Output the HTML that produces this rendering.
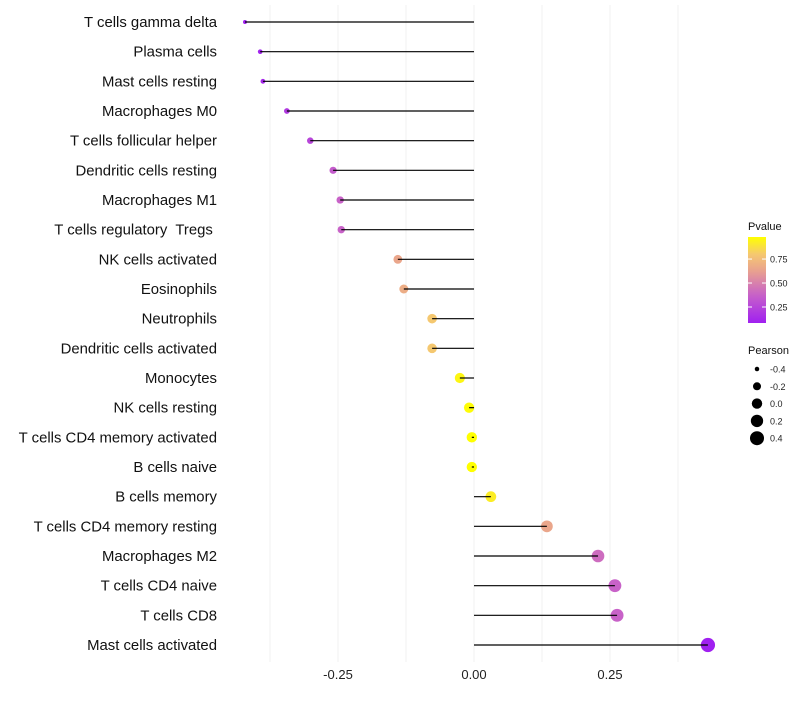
<!DOCTYPE html>
<html><head><meta charset="utf-8"><style>
body{margin:0;background:#fff}
svg text{font-family:"Liberation Sans",sans-serif;white-space:pre}
</style></head><body>
<svg id="c" width="800" height="700"></svg>
<script>
const categories=["T cells gamma delta","Plasma cells","Mast cells resting","Macrophages M0","T cells follicular helper","Dendritic cells resting","Macrophages M1","T cells regulatory  Tregs ","NK cells activated","Eosinophils","Neutrophils","Dendritic cells activated","Monocytes","NK cells resting","T cells CD4 memory activated","B cells naive","B cells memory","T cells CD4 memory resting","Macrophages M2","T cells CD4 naive","T cells CD8","Mast cells activated"];
const pearson=[-0.421,-0.393,-0.388,-0.344,-0.301,-0.259,-0.246,-0.244,-0.140,-0.129,-0.077,-0.077,-0.026,-0.009,-0.004,-0.004,0.031,0.134,0.228,0.259,0.263,0.430];
const pvalue=[0.08,0.10,0.12,0.20,0.25,0.35,0.38,0.38,0.65,0.68,0.80,0.80,0.95,0.97,0.98,0.98,0.92,0.65,0.42,0.38,0.38,0.08];
const xTicks=[-0.25,0,0.25];
const xTickLabels=["-0.25","0.00","0.25"];
const gridVals=[-0.375,-0.25,-0.125,0,0.125,0.25,0.375];
const pTicks=[0.25,0.5,0.75];
const pTickLabels=["0.25","0.50","0.75"];
const sizeVals=[-0.4,-0.2,0,0.2,0.4];
const sizeLabels=["-0.4","-0.2","0.0","0.2","0.4"];

const NS="http://www.w3.org/2000/svg";
const svg=document.getElementById('c');
function el(t,a,p){const e=document.createElementNS(NS,t);for(const k in a)e.setAttribute(k,a[k]);(p||svg).appendChild(e);return e;}
const x=v=>474+v*544;
const y=i=>22+i*(623/21);
const rad=v=>Math.sqrt(Math.max(2.5,4+55*(v+0.42)));
const stops=[[0,[160,32,240]],[0.33,[200,98,200]],[0.6,[232,160,144]],[0.8,[245,200,112]],[1,[255,255,0]]];
function col(p){const t=Math.min(1,Math.max(0,(p-0.083)/(0.98-0.083)));for(let i=1;i<stops.length;i++){if(t<=stops[i][0]){const a=stops[i-1],b=stops[i],f=(t-a[0])/(b[0]-a[0]);return 'rgb('+a[1].map((c,j)=>Math.round(c+(b[1][j]-c)*f)).join(',')+')';}}return 'rgb(255,255,0)';}

gridVals.forEach(g=>{const l=el('line',{x1:x(g),x2:x(g),y1:5,y2:662,stroke:'#f2f2f2','stroke-width':1});

});
xTicks.forEach((t,i)=>{const tx=el('text',{x:x(t),y:679,'text-anchor':'middle','font-size':13,fill:'#222'});tx.textContent=xTickLabels[i];

});
categories.forEach((c,i)=>{
 const t=el('text',{x:217,y:y(i)+5,'text-anchor':'end','font-size':14.9,fill:'#111'});t.textContent=c;
 
 
 const d=el('circle',{cx:x(pearson[i]),cy:y(i),r:rad(pearson[i]),fill:col(pvalue[i])});
 
 
 const l=el('line',{x1:x(0),x2:x(pearson[i]),y1:y(i),y2:y(i),stroke:'#000','stroke-width':1.2});
 
 
});
const lt=el('text',{x:748,y:230,'font-size':11,fill:'#111'});lt.textContent='Pvalue';


const defs=el('defs',{});const lg=el('linearGradient',{id:'g',x1:0,y1:1,x2:0,y2:0},defs);
for(let k=0;k<=10;k++){el('stop',{offset:k/10,'stop-color':col(0.083+k/10*(0.98-0.083))},lg);}
const bar=el('rect',{x:748,y:237,width:18,height:86,fill:'url(#g)'});


const py=p=>323-(p-0.083)/(0.98-0.083)*86;
pTicks.forEach((p,i)=>{el('line',{x1:748,x2:752,y1:py(p),y2:py(p),stroke:'#fff'});el('line',{x1:762,x2:766,y1:py(p),y2:py(p),stroke:'#fff'});
 const t=el('text',{x:770,y:py(p)+3.5,'font-size':9,fill:'#222'});t.textContent=pTickLabels[i];
 
 });
const st=el('text',{x:748,y:354,'font-size':11,fill:'#111'});st.textContent='Pearson';


sizeVals.forEach((v,i)=>{const cy=369+i*17.3;
 const c=el('circle',{cx:757,cy:cy,r:rad(v),fill:'#000'});
 
 
 const t=el('text',{x:770,y:cy+3.5,'font-size':9,fill:'#222'});t.textContent=sizeLabels[i];
 
 });
</script>
</body></html>
